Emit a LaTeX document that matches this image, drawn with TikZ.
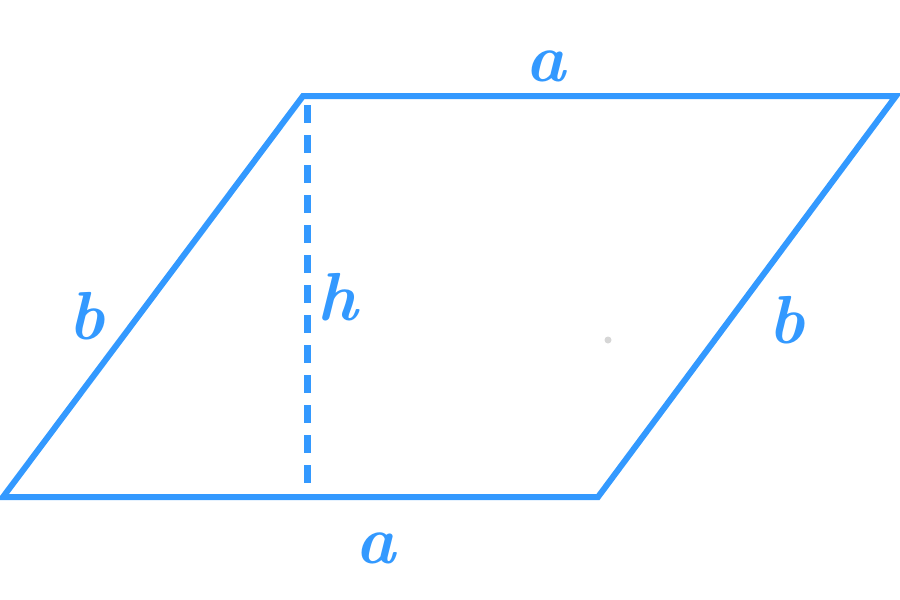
\documentclass[tikz,border=0pt]{standalone}
\definecolor{edgeblue}{HTML}{3399FF}
\tikzset{
  edge/.style={draw=edgeblue, line width=6pt, line join=miter},
  hline/.style={draw=edgeblue, line width=7pt, dash pattern=on 18pt off 12pt},
  lbl/.style={text=edgeblue, font=\fontsize{68}{68}\selectfont\bfseries\itshape, inner sep=0pt, anchor=center}
}
\begin{document}
\begin{tikzpicture}[x=1pt,y=-1pt]
\useasboundingbox (0,0) rectangle (900,600);
\coordinate (BL) at (3,497);
\coordinate (BR) at (598,497);
\coordinate (TR) at (896,96);
\coordinate (TL) at (303,96);
\coordinate (H1) at (307,105);
\coordinate (H2) at (307,490);
\draw[edge] (BL) -- (BR) -- (TR) -- (TL) -- cycle;
\draw[hline] (H1) -- (H2);
\node[lbl] (atop) at (546,66) {a};
\node[lbl] (abot) at (376,548) {a};
\node[lbl] (bleft) at (87,316) {b};
\node[lbl] (bright) at (787,320) {b};
\node[lbl] (hlab) at (338,297) {h};
\fill[gray!40, opacity=0.8] (608,340) circle (3.5);
\end{tikzpicture}
\end{document}
